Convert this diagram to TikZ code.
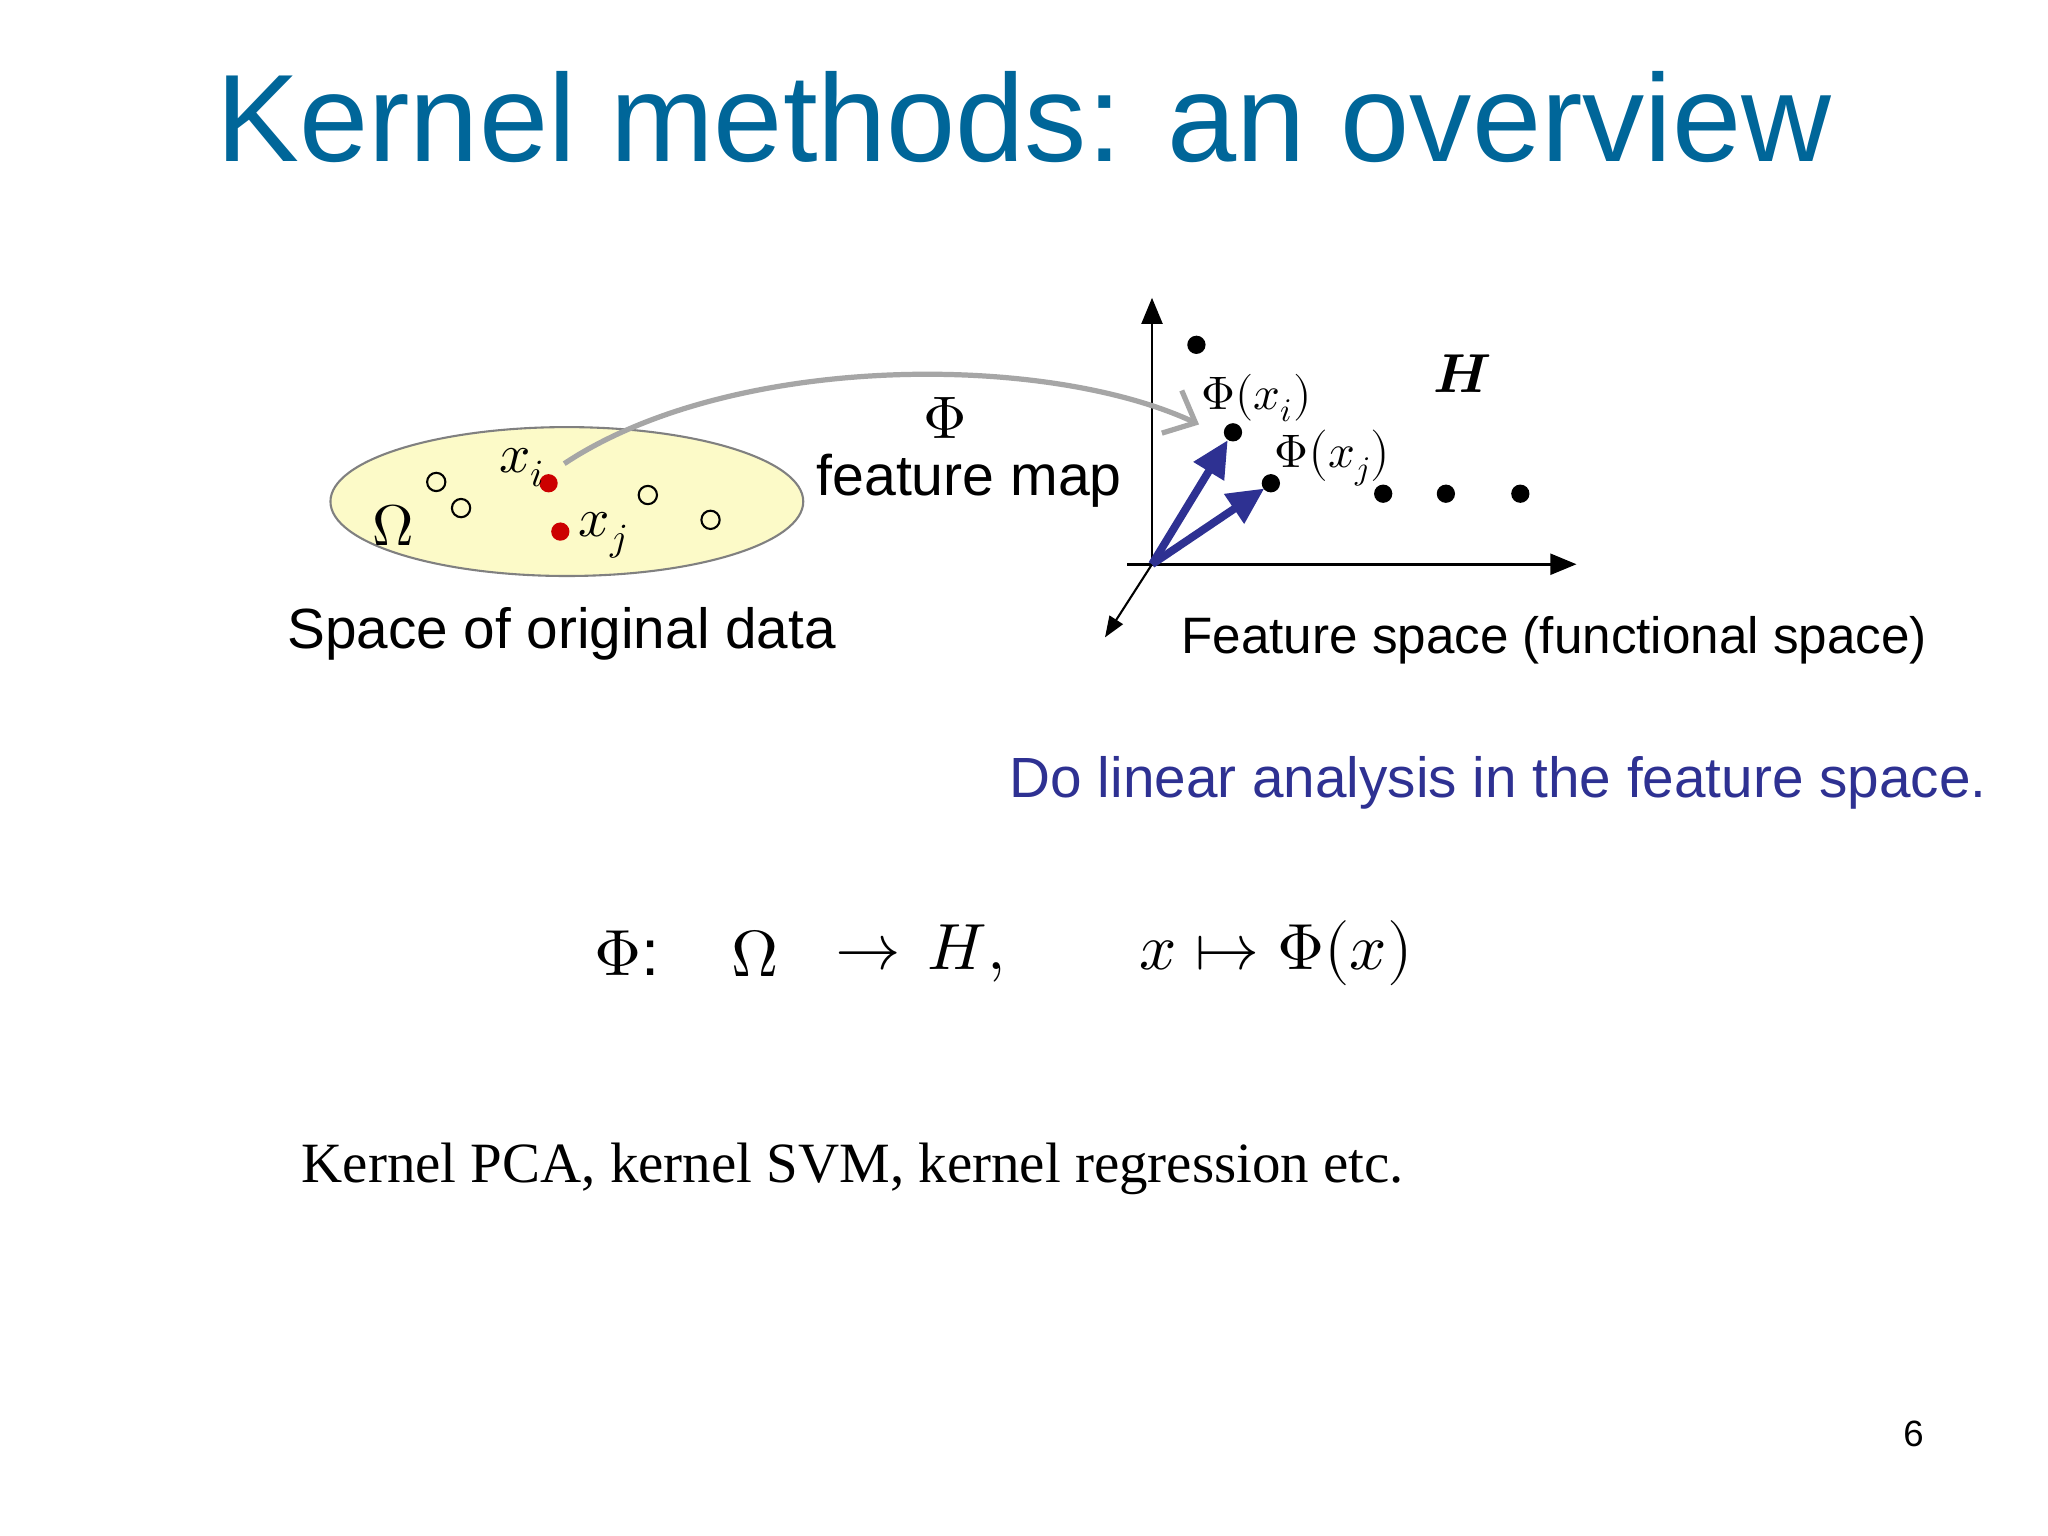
\documentclass[tikz,border=0pt]{standalone}
\usepackage{fontspec}
\usepackage{amsmath}
\usepackage{unicode-math}
\setmathfont{Latin Modern Math}
\setmainfont{Liberation Sans}
\newfontfamily\bodyserif{Liberation Serif}
\usetikzlibrary{arrows.meta}
\definecolor{titleblue}{RGB}{0,102,153}
\definecolor{navy}{RGB}{46,49,146}
\definecolor{ellfill}{RGB}{252,250,200}
\tikzset{
  opendot/.style={circle,draw,inner sep=0pt,minimum size=7pt,line width=0.8pt},
  reddot/.style={circle,fill=red!80!black,inner sep=0pt,minimum size=7pt},
  bdot/.style={circle,fill=black,inner sep=0pt,minimum size=7pt},
  bluearr/.style={navy,line width=3pt,-{Triangle[length=14pt,width=13pt]}},
  axis/.style={line width=1pt,-{Triangle[length=10pt,width=8pt]}},
}
\begin{document}
\begin{tikzpicture}[x=0.5pt,y=-0.5pt]
\useasboundingbox (0,0) rectangle (1568,1176);
\fill[white] (0,0) rectangle (1568,1176);
\node[titleblue,font=\fontsize{47.6}{52}\selectfont] (title) at (784,90) {Kernel methods: an overview};
% ellipse
\draw[gray,fill=ellfill,line width=0.8pt] (434,384) ellipse [x radius=181,y radius=57];
\node[opendot] (o1) at (334,369) {};
\node[opendot] (o2) at (353,389) {};
\node[opendot] (o3) at (496,379) {};
\node[opendot] (o4) at (544,398) {};
\node[reddot] (xi) at (420,370) {};
\node[reddot] (xj) at (429,407) {};
\node[font=\fontsize{21}{22}\selectfont] (lxi) at (400,358) {$x_i$};
\node[font=\fontsize{21}{22}\selectfont] (lxj) at (462,410) {$x_j$};
\node[font=\fontsize{22}{22}\selectfont] (om) at (301,402) {$\Omega$};
\node[font=\fontsize{21.7}{24}\selectfont] (sod) at (430,485) {Space of original data};
% feature map
\node[font=\fontsize{23}{24}\selectfont,inner sep=1pt] (phi) at (724,320) {$\Phi$};
\node[font=\fontsize{21.9}{24}\selectfont,inner sep=1pt] (fm) at (742,368) {feature map};
% axes
\coordinate (O) at (882,432);
\coordinate (yt) at (882,228);
\coordinate (xl) at (863,432);
\coordinate (xr) at (1207,432);
\coordinate (zt) at (846,488);
\draw[axis] (O) -- (yt);
\draw[axis] (xl) -- (xr);
\draw[line width=0.8pt,-{Triangle[length=8pt,width=6pt]}] (O) -- (zt);
\node[bdot] (d1) at (916,264) {};
\node[bdot] (pi) at (944,331) {};
\node[bdot] (pj) at (973,370) {};
\node[bdot] (d2) at (1059,378) {};
\node[bdot] (d3) at (1107,378) {};
\node[bdot] (d4) at (1164,378) {};
\draw[bluearr] (O) -- (940,337);
\draw[bluearr] (O) -- (968,374);
\draw[gray!70,line width=2pt,-{Straight Barb[length=10pt,width=18pt,line width=2pt]}] (xi) ++(12,-15) .. controls (560,270) and (800,270) .. (918,325);
\node[font=\fontsize{18}{20}\selectfont] (lpi) at (962,305) {$\Phi(x_i)$};
\node[font=\fontsize{18}{20}\selectfont] (lpj) at (1020,350) {$\Phi\big(x_j\big)$};
\node[font=\fontsize{21}{22}\selectfont] (H) at (1120,286) {$\symbfit{H}$};
\node[font=\fontsize{19.6}{24}\selectfont] (fs) at (1190,490) {Feature space (functional space)};
\node[navy,font=\fontsize{21.7}{24}\selectfont] (lin) at (1147,599) {Do linear analysis in the feature space.};
% formula
\node[font=\fontsize{25}{28}\selectfont] (f1) at (480,730) {$\Phi$:};
\node[font=\fontsize{25}{28}\selectfont] (f2) at (578,730) {$\Omega$};
\node[font=\fontsize{25}{28}\selectfont] (f3) at (665,730) {$\rightarrow$};
\node[font=\fontsize{25}{28}\selectfont] (f4) at (740,730) {$H,$};
\node[font=\fontsize{25}{28}\selectfont] (f5) at (977,730) {$x\mapsto\Phi(x)$};
\node[font=\fontsize{21.8}{26}\selectfont\bodyserif] (kp) at (653,895) {Kernel PCA, kernel SVM, kernel regression etc.};
\node[font=\fontsize{14}{16}\selectfont] (pg) at (1465,1098) {6};
\end{tikzpicture}
\end{document}
